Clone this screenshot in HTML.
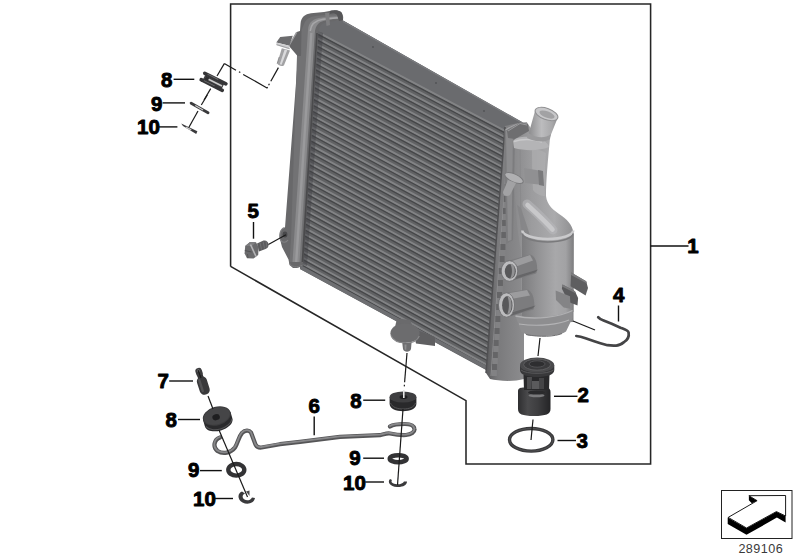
<!DOCTYPE html>
<html><head><meta charset="utf-8">
<style>
html,body{margin:0;padding:0;background:#fff;width:800px;height:560px;overflow:hidden}
svg{display:block}
.lb{font-family:"Liberation Sans",sans-serif;font-weight:bold;font-size:20.5px;fill:#000;stroke:#000;stroke-width:0.9px;stroke-linejoin:round}
.ld{stroke:#111;stroke-width:1.4;fill:none}
</style></head><body>
<svg width="800" height="560" viewBox="0 0 800 560">
<!-- frame -->
<polyline points="230.6,266.4 230.6,4 650.6,4 650.6,464 466,464 466,400.6 230.6,266.4" fill="none" stroke="#262626" stroke-width="1.55"/>

<!-- radiator assembly -->
<g id="rad">
<defs>
<linearGradient id="gTank" x1="0" y1="0" x2="1" y2="0">
 <stop offset="0" stop-color="#505052"/><stop offset="0.2" stop-color="#6c6c6e"/>
 <stop offset="0.55" stop-color="#78787a"/><stop offset="0.7" stop-color="#a2a2a4"/>
 <stop offset="0.8" stop-color="#9a9a9c"/><stop offset="0.9" stop-color="#5c5c5e"/><stop offset="1" stop-color="#4a4a4c"/>
</linearGradient>
<linearGradient id="gCyl" x1="0" y1="0" x2="1" y2="0">
 <stop offset="0" stop-color="#7c7c7e"/><stop offset="0.3" stop-color="#929294"/>
 <stop offset="0.65" stop-color="#a8a8aa"/><stop offset="0.85" stop-color="#a2a2a4"/>
 <stop offset="1" stop-color="#7e7e80"/>
</linearGradient>
<linearGradient id="gNeck" x1="0" y1="0" x2="1" y2="0">
 <stop offset="0" stop-color="#848486"/><stop offset="0.35" stop-color="#9c9c9e"/>
 <stop offset="0.7" stop-color="#ababad"/><stop offset="1" stop-color="#8e8e90"/>
</linearGradient>
<linearGradient id="gPipe" x1="0" y1="0" x2="1" y2="0">
 <stop offset="0" stop-color="#8a8a8c"/><stop offset="0.45" stop-color="#bcbcbe"/>
 <stop offset="0.8" stop-color="#a8a8aa"/><stop offset="1" stop-color="#8e8e90"/>
</linearGradient>
<linearGradient id="gRT" x1="0" y1="0" x2="1" y2="0">
 <stop offset="0" stop-color="#5a5a5c"/><stop offset="0.3" stop-color="#7a7a7c"/>
 <stop offset="1" stop-color="#8e8e90"/>
</linearGradient>
<linearGradient id="gTh" x1="0" y1="0" x2="1" y2="0">
 <stop offset="0" stop-color="#2e2e30"/><stop offset="0.3" stop-color="#4a4a4c"/>
 <stop offset="0.6" stop-color="#3e3e40"/><stop offset="1" stop-color="#242426"/>
</linearGradient>
<linearGradient id="gGr" x1="0" y1="0" x2="0" y2="1">
 <stop offset="0" stop-color="#4a4a4c"/><stop offset="1" stop-color="#232325"/>
</linearGradient>
<linearGradient id="gHi" x1="0" y1="0" x2="0" y2="1">
 <stop offset="0" stop-color="#333"/><stop offset="0.45" stop-color="#d8d8d8"/><stop offset="1" stop-color="#333"/>
</linearGradient>
</defs>
<polygon points="314.0,22.0 342.0,20.0 529.0,126.0 505.0,131.0 488.0,366.0 486.0,370.0 300.0,269.0 300.0,262.0" fill="#616264"/>
<polygon points="318.0,21.0 343.0,20.5 528.0,126.0 505.0,131.5 317.0,32.0" fill="#6a6b6e"/>
<line x1="343" y1="21.4" x2="527" y2="125.6" stroke="#7a7b7e" stroke-width="1.4"/>
<circle cx="373" cy="47" r="0.9" fill="#505154"/><circle cx="436" cy="83" r="0.9" fill="#505154"/><circle cx="484" cy="111" r="0.9" fill="#505154"/>
<g><line x1="318.0" y1="32.5" x2="505.0" y2="131.0" stroke="#828385" stroke-width="2.1"/><line x1="318.0" y1="34.3" x2="505.0" y2="132.8" stroke="#464749" stroke-width="1.3"/><line x1="317.6" y1="38.4" x2="504.6" y2="137.0" stroke="#828385" stroke-width="2.1"/><line x1="317.6" y1="40.2" x2="504.6" y2="138.8" stroke="#464749" stroke-width="1.3"/><line x1="317.2" y1="44.4" x2="504.1" y2="143.0" stroke="#828385" stroke-width="2.1"/><line x1="317.2" y1="46.2" x2="504.1" y2="144.8" stroke="#464749" stroke-width="1.3"/><line x1="316.8" y1="50.3" x2="503.7" y2="149.0" stroke="#828385" stroke-width="2.1"/><line x1="316.8" y1="52.1" x2="503.7" y2="150.8" stroke="#464749" stroke-width="1.3"/><line x1="316.5" y1="56.2" x2="503.3" y2="155.1" stroke="#828385" stroke-width="2.1"/><line x1="316.5" y1="58.0" x2="503.3" y2="156.9" stroke="#464749" stroke-width="1.3"/><line x1="316.1" y1="62.2" x2="502.8" y2="161.1" stroke="#828385" stroke-width="2.1"/><line x1="316.1" y1="64.0" x2="502.8" y2="162.9" stroke="#464749" stroke-width="1.3"/><line x1="315.7" y1="68.1" x2="502.4" y2="167.1" stroke="#828385" stroke-width="2.1"/><line x1="315.7" y1="69.9" x2="502.4" y2="168.9" stroke="#464749" stroke-width="1.3"/><line x1="315.3" y1="74.1" x2="501.9" y2="173.1" stroke="#828385" stroke-width="2.1"/><line x1="315.3" y1="75.9" x2="501.9" y2="174.9" stroke="#464749" stroke-width="1.3"/><line x1="314.9" y1="80.0" x2="501.5" y2="179.1" stroke="#828385" stroke-width="2.1"/><line x1="314.9" y1="81.8" x2="501.5" y2="180.9" stroke="#464749" stroke-width="1.3"/><line x1="314.5" y1="85.9" x2="501.1" y2="185.1" stroke="#828385" stroke-width="2.1"/><line x1="314.5" y1="87.7" x2="501.1" y2="186.9" stroke="#464749" stroke-width="1.3"/><line x1="314.2" y1="91.9" x2="500.6" y2="191.1" stroke="#828385" stroke-width="2.1"/><line x1="314.2" y1="93.7" x2="500.6" y2="192.9" stroke="#464749" stroke-width="1.3"/><line x1="313.8" y1="97.8" x2="500.2" y2="197.1" stroke="#828385" stroke-width="2.1"/><line x1="313.8" y1="99.6" x2="500.2" y2="198.9" stroke="#464749" stroke-width="1.3"/><line x1="313.4" y1="103.7" x2="499.8" y2="203.2" stroke="#828385" stroke-width="2.1"/><line x1="313.4" y1="105.5" x2="499.8" y2="205.0" stroke="#464749" stroke-width="1.3"/><line x1="313.0" y1="109.7" x2="499.3" y2="209.2" stroke="#828385" stroke-width="2.1"/><line x1="313.0" y1="111.5" x2="499.3" y2="211.0" stroke="#464749" stroke-width="1.3"/><line x1="312.6" y1="115.6" x2="498.9" y2="215.2" stroke="#828385" stroke-width="2.1"/><line x1="312.6" y1="117.4" x2="498.9" y2="217.0" stroke="#464749" stroke-width="1.3"/><line x1="312.2" y1="121.5" x2="498.5" y2="221.2" stroke="#828385" stroke-width="2.1"/><line x1="312.2" y1="123.3" x2="498.5" y2="223.0" stroke="#464749" stroke-width="1.3"/><line x1="311.8" y1="127.5" x2="498.0" y2="227.2" stroke="#828385" stroke-width="2.1"/><line x1="311.8" y1="129.3" x2="498.0" y2="229.0" stroke="#464749" stroke-width="1.3"/><line x1="311.5" y1="133.4" x2="497.6" y2="233.2" stroke="#828385" stroke-width="2.1"/><line x1="311.5" y1="135.2" x2="497.6" y2="235.0" stroke="#464749" stroke-width="1.3"/><line x1="311.1" y1="139.3" x2="497.2" y2="239.2" stroke="#828385" stroke-width="2.1"/><line x1="311.1" y1="141.1" x2="497.2" y2="241.0" stroke="#464749" stroke-width="1.3"/><line x1="310.7" y1="145.3" x2="496.7" y2="245.2" stroke="#828385" stroke-width="2.1"/><line x1="310.7" y1="147.1" x2="496.7" y2="247.0" stroke="#464749" stroke-width="1.3"/><line x1="310.3" y1="151.2" x2="496.3" y2="251.3" stroke="#828385" stroke-width="2.1"/><line x1="310.3" y1="153.0" x2="496.3" y2="253.1" stroke="#464749" stroke-width="1.3"/><line x1="309.9" y1="157.2" x2="495.8" y2="257.3" stroke="#828385" stroke-width="2.1"/><line x1="309.9" y1="159.0" x2="495.8" y2="259.1" stroke="#464749" stroke-width="1.3"/><line x1="309.5" y1="163.1" x2="495.4" y2="263.3" stroke="#828385" stroke-width="2.1"/><line x1="309.5" y1="164.9" x2="495.4" y2="265.1" stroke="#464749" stroke-width="1.3"/><line x1="309.2" y1="169.0" x2="495.0" y2="269.3" stroke="#828385" stroke-width="2.1"/><line x1="309.2" y1="170.8" x2="495.0" y2="271.1" stroke="#464749" stroke-width="1.3"/><line x1="308.8" y1="175.0" x2="494.5" y2="275.3" stroke="#828385" stroke-width="2.1"/><line x1="308.8" y1="176.8" x2="494.5" y2="277.1" stroke="#464749" stroke-width="1.3"/><line x1="308.4" y1="180.9" x2="494.1" y2="281.3" stroke="#828385" stroke-width="2.1"/><line x1="308.4" y1="182.7" x2="494.1" y2="283.1" stroke="#464749" stroke-width="1.3"/><line x1="308.0" y1="186.8" x2="493.7" y2="287.3" stroke="#828385" stroke-width="2.1"/><line x1="308.0" y1="188.6" x2="493.7" y2="289.1" stroke="#464749" stroke-width="1.3"/><line x1="307.6" y1="192.8" x2="493.2" y2="293.3" stroke="#828385" stroke-width="2.1"/><line x1="307.6" y1="194.6" x2="493.2" y2="295.1" stroke="#464749" stroke-width="1.3"/><line x1="307.2" y1="198.7" x2="492.8" y2="299.4" stroke="#828385" stroke-width="2.1"/><line x1="307.2" y1="200.5" x2="492.8" y2="301.2" stroke="#464749" stroke-width="1.3"/><line x1="306.8" y1="204.6" x2="492.4" y2="305.4" stroke="#828385" stroke-width="2.1"/><line x1="306.8" y1="206.4" x2="492.4" y2="307.2" stroke="#464749" stroke-width="1.3"/><line x1="306.5" y1="210.6" x2="491.9" y2="311.4" stroke="#828385" stroke-width="2.1"/><line x1="306.5" y1="212.4" x2="491.9" y2="313.2" stroke="#464749" stroke-width="1.3"/><line x1="306.1" y1="216.5" x2="491.5" y2="317.4" stroke="#828385" stroke-width="2.1"/><line x1="306.1" y1="218.3" x2="491.5" y2="319.2" stroke="#464749" stroke-width="1.3"/><line x1="305.7" y1="222.4" x2="491.1" y2="323.4" stroke="#828385" stroke-width="2.1"/><line x1="305.7" y1="224.2" x2="491.1" y2="325.2" stroke="#464749" stroke-width="1.3"/><line x1="305.3" y1="228.4" x2="490.6" y2="329.4" stroke="#828385" stroke-width="2.1"/><line x1="305.3" y1="230.2" x2="490.6" y2="331.2" stroke="#464749" stroke-width="1.3"/><line x1="304.9" y1="234.3" x2="490.2" y2="335.4" stroke="#828385" stroke-width="2.1"/><line x1="304.9" y1="236.1" x2="490.2" y2="337.2" stroke="#464749" stroke-width="1.3"/><line x1="304.5" y1="240.3" x2="489.7" y2="341.4" stroke="#828385" stroke-width="2.1"/><line x1="304.5" y1="242.1" x2="489.7" y2="343.2" stroke="#464749" stroke-width="1.3"/><line x1="304.2" y1="246.2" x2="489.3" y2="347.5" stroke="#828385" stroke-width="2.1"/><line x1="304.2" y1="248.0" x2="489.3" y2="349.3" stroke="#464749" stroke-width="1.3"/><line x1="303.8" y1="252.1" x2="488.9" y2="353.5" stroke="#828385" stroke-width="2.1"/><line x1="303.8" y1="253.9" x2="488.9" y2="355.3" stroke="#464749" stroke-width="1.3"/><line x1="303.4" y1="258.1" x2="488.4" y2="359.5" stroke="#828385" stroke-width="2.1"/><line x1="303.4" y1="259.9" x2="488.4" y2="361.3" stroke="#464749" stroke-width="1.3"/><line x1="303.0" y1="264.0" x2="488.0" y2="365.5" stroke="#828385" stroke-width="2.1"/><line x1="303.0" y1="265.8" x2="488.0" y2="367.3" stroke="#464749" stroke-width="1.3"/></g>
<polygon points="317.0,31.0 323.0,33.0 307.0,266.0 301.0,264.0" fill="#3e3f42" opacity="0.45"/>
<polygon points="301.0,265.5 488.0,366.5 487.0,370.0 300.0,269.0" fill="#6e6f72"/>
<path d="M300.5,24 C301,17 305,14 311,13.2 L324,12 C328,11 331,10.4 334,10.4 C339,10 342.5,12 343.2,17 L343,20.5 C332,21 324,21.5 321,25 C319,27.5 318.5,30 318.2,34 L303.3,262 C302.5,266.5 299,268.5 293,268 L289.5,265 L288.5,259.5 L282,247 L279.5,237 C279.5,231 281.5,228.5 285,227.5 Z" fill="#68686a"/>
<path d="M304,24 C306,18 312,16 320,15.5 L338,14 L338,19 C328,19.5 320,20.5 316.5,24.5 C314.5,27 314,30 313.5,34 L301.5,262 L289.5,262 L291,240 L297.5,40 Z" fill="#727274"/>
<path d="M308,30 C308.5,22 313,18.5 322,17.5 L340,16 L340,18.6 C330,19 322,20.5 318.5,23.5 C316,26 315,29 314.8,33 L299.5,262 L292.5,262 Z" fill="#8a8a8c"/>
<path d="M310.2,31 C311,24 315,20.5 323,19.3 L338,17.7" stroke="#a6a6a8" stroke-width="1.6" fill="none"/>
<path d="M311.3,33 L296.2,262" stroke="#9a9a9c" stroke-width="2.4" fill="none"/>
<path d="M316.2,33 L317.8,33 L303.3,262 L301.6,262 Z" fill="#4a4a4c"/>
<path d="M330,11 C334,9.5 340,10 342,13 L343,20 L339,21 L337,15 C335,13 332,13 330,14 Z" fill="#565658"/>
<path d="M325,13 L326.5,26 L330,25 L329,13 Z" fill="#7e7e80"/>
<path d="M284.5,227.5 C280,229 279,235 280.5,240 C282,243 286,243 288,240" stroke="#828284" stroke-width="1.2" fill="none"/>
<ellipse cx="285" cy="234.5" rx="2.4" ry="3" fill="#48484a"/>
<path d="M289.5,263 C291,267 297,268 302.5,265" stroke="#7a7a7c" stroke-width="1" fill="none"/>
<path d="M296.7,32 L301.5,30.5 L301,56 L297.5,56 L289,46 Z" fill="#646466"/>
<path d="M296.7,32.3 L288.9,45.7" stroke="#9a9a9c" stroke-width="1.4"/>
<path d="M276.3,42.5 L280.2,37 L292.8,35.8 L289.3,45.7 Z" fill="#6c6c6e"/>
<path d="M276.3,42.5 L289.3,45.7 L289.7,49.6 L276.5,45.2 Z" fill="#cfcfd1"/>
<path d="M276.5,44.6 L289.6,48.6" stroke="#8a8a8c" stroke-width="0.7"/>
<path d="M281.8,48.2 L290,50.6 L284,65.2 C282.5,66.8 278.5,66 277.2,63.6 Z" fill="#a2a2a4"/>
<path d="M284.6,49.5 L287.2,50.3 L281.6,64.8 L279.8,64.2 Z" fill="#dadadc"/>
<path d="M277.2,63.6 L279.2,57" stroke="#7e7e80" stroke-width="0.8"/>
<path d="M505,126 L521,122.5 L526,127 L524,250 L524,379 C514,382 498,381 490,379 L486,373 Z" fill="url(#gRT)"/>
<path d="M505,127 L486,373" stroke="#505052" stroke-width="1.5"/>
<path d="M509,128 L491,376" stroke="#8e8e90" stroke-width="1"/>
<rect x="508.1" y="136.0" width="5" height="6" fill="#656567"/>
<rect x="508.1" y="142.0" width="5" height="6" fill="#828284"/>
<rect x="507.2" y="148.0" width="5" height="6" fill="#656567"/>
<rect x="507.2" y="154.0" width="5" height="6" fill="#828284"/>
<rect x="506.4" y="160.0" width="5" height="6" fill="#656567"/>
<rect x="506.4" y="166.0" width="5" height="6" fill="#828284"/>
<rect x="505.5" y="172.0" width="5" height="6" fill="#656567"/>
<rect x="505.5" y="178.0" width="5" height="6" fill="#828284"/>
<rect x="504.7" y="184.0" width="5" height="6" fill="#656567"/>
<rect x="504.7" y="190.0" width="5" height="6" fill="#828284"/>
<rect x="503.8" y="196.0" width="5" height="6" fill="#656567"/>
<rect x="503.8" y="202.0" width="5" height="6" fill="#828284"/>
<rect x="503.0" y="208.0" width="5" height="6" fill="#656567"/>
<rect x="503.0" y="214.0" width="5" height="6" fill="#828284"/>
<rect x="502.1" y="220.0" width="5" height="6" fill="#656567"/>
<rect x="502.1" y="226.0" width="5" height="6" fill="#828284"/>
<rect x="501.3" y="232.0" width="5" height="6" fill="#656567"/>
<rect x="501.3" y="238.0" width="5" height="6" fill="#828284"/>
<rect x="500.4" y="244.0" width="5" height="6" fill="#656567"/>
<rect x="500.4" y="250.0" width="5" height="6" fill="#828284"/>
<rect x="499.6" y="256.0" width="5" height="6" fill="#656567"/>
<rect x="499.6" y="262.0" width="5" height="6" fill="#828284"/>
<rect x="498.7" y="268.0" width="5" height="6" fill="#656567"/>
<rect x="498.7" y="274.0" width="5" height="6" fill="#828284"/>
<rect x="497.9" y="280.0" width="5" height="6" fill="#656567"/>
<rect x="497.9" y="286.0" width="5" height="6" fill="#828284"/>
<rect x="497.0" y="292.0" width="5" height="6" fill="#656567"/>
<rect x="497.0" y="298.0" width="5" height="6" fill="#828284"/>
<rect x="496.2" y="304.0" width="5" height="6" fill="#656567"/>
<rect x="496.2" y="310.0" width="5" height="6" fill="#828284"/>
<rect x="495.3" y="316.0" width="5" height="6" fill="#656567"/>
<rect x="495.3" y="322.0" width="5" height="6" fill="#828284"/>
<rect x="494.5" y="328.0" width="5" height="6" fill="#656567"/>
<rect x="494.5" y="334.0" width="5" height="6" fill="#828284"/>
<rect x="493.6" y="340.0" width="5" height="6" fill="#656567"/>
<rect x="493.6" y="346.0" width="5" height="6" fill="#828284"/>
<rect x="492.8" y="352.0" width="5" height="6" fill="#656567"/>
<rect x="492.8" y="358.0" width="5" height="6" fill="#828284"/>
<rect x="491.9" y="364.0" width="5" height="6" fill="#656567"/>
<rect x="491.9" y="370.0" width="5" height="6" fill="#828284"/>
<path d="M509,132 C510,126 516,123 527,122.5 L536,136 L550,138 C548,160 546,180 546,196 C547,205 553,210 562,216 C569,221 573.5,227 573.8,236 L573.5,312 L521,314 L521,250 C519,240 517,228 516,210 L513,170 L509,150 Z" fill="url(#gNeck)"/>
<path d="M504.5,130 L512,128 L515,134 L513,240 L506,244 Z" fill="#7c7c7e"/>
<path d="M506,131 L513,129 L511.5,240 L508,241 Z" fill="#8c8c8e"/>
<path d="M505.5,130 C511,126 518,123.5 527,122.5" stroke="#a4a4a6" stroke-width="1.2" fill="none"/>
<path d="M507,131 L520,122.5 L528,124 L529,131 L515,139 L508,138 Z" fill="#6e6e70"/>
<path d="M508,131 L520,123.5 L527,125" stroke="#9a9a9c" stroke-width="1" fill="none"/>
<path d="M513,141 C517,136 528,136 538,138 C544,140 548,143 549,147 C540,151 525,151 514,148 Z" fill="#b4b4b6"/>
<path d="M514,141.5 C522,138.5 534,139 542,142" stroke="#cacacc" stroke-width="1.5" fill="none"/>
<path d="M520,150 L521,235" stroke="#8a8a8c" stroke-width="1" fill="none"/>
<path d="M532,150 C536,149 542,150 546,153 C545,168 544,182 545,196 C541,196 536,194 533,190 C532,176 532,162 532,150 Z" fill="#b0b0b2" opacity="0.6"/>
<path d="M527,204 C534,210 545,221 553,230" stroke="#b8b8ba" stroke-width="9" stroke-linecap="round" fill="none" opacity="0.6"/>
<path d="M527.5,205 C534,211 545,221 552.5,229.5" stroke="#c8c8ca" stroke-width="4.5" stroke-linecap="round" fill="none"/>
<path d="M517,205 C519,215 521,225 522,234 L530,236 C528,228 524,218 521,208 Z" fill="#858587" opacity="0.9"/>
<path d="M522,232 A25.6,8.6 0 0,0 573.5,232 L573.5,322 L522,324 Z" fill="url(#gCyl)"/>
<path d="M522.3,230.6 A25.4,8.4 0 0,0 573.2,230.6" stroke="#cacacc" stroke-width="2.6" fill="none"/>
<path d="M522.5,233.6 A25.2,8.3 0 0,0 573,233.6" stroke="#7a7a7c" stroke-width="1.5" fill="none"/>
<path d="M535,111 L558,117 L550,137 C545,141 535,140 528,136 Z" fill="url(#gPipe)"/>
<path d="M528,133 C536,138 545,139 551,134 L550,139 C544,143 535,142 527,138 Z" fill="#9a9a9c"/>
<ellipse cx="546.5" cy="114" rx="12" ry="5.6" transform="rotate(20 546.5 114)" fill="#c8c8ca" stroke="#909092" stroke-width="1"/>
<ellipse cx="547" cy="114.6" rx="8" ry="3.2" transform="rotate(20 547 114.6)" fill="#a2a2a4"/>
<path d="M524,168 L542,171 L543,185 L525,183 Z" fill="#909092"/>
<path d="M538,170 L543,171 L544,186 L539,185 Z" fill="#7a7a7c"/>
<ellipse cx="514" cy="178" rx="10" ry="4" transform="rotate(25 514 178)" fill="#b0b0b2" stroke="#7a7a7c" stroke-width="1"/>
<path d="M508,180 L516,183 L510,195 C507,197 503,196 503,192 Z" fill="#a2a2a4"/>
<path d="M515.5,316 C535,320 560,316 572.5,310.5 L572.5,318 L566,331.5 C560,335.5 548,336.5 536,336 L528,335.5 L521,331.5 Z" fill="#8e8e90"/>
<path d="M515.5,316 C535,320.5 560,317 572.5,310.5" stroke="#b0b0b2" stroke-width="1.4" fill="none"/>
<path d="M519,324 C540,327 560,324 569,320" stroke="#b4b4b6" stroke-width="1.1" fill="none"/>
<path d="M526,334.5 C540,337.5 555,336.5 562,333.5" stroke="#6e6e70" stroke-width="1" fill="none"/>
<polygon points="571.2,272.5 586.2,281.2 588.0,288.0 585.6,295.6 570.6,286.2" fill="#5e5e60"/>
<polygon points="571.2,272.5 586.2,281.2 587.0,283.5 571.0,275.0" fill="#7c7c7e"/>
<polygon points="562.5,284.4 575.0,291.2 578.1,298.1 577.5,305.6 568.7,301.9 561.9,288.7" fill="#5a5a5c"/>
<polygon points="562.5,284.4 575.0,291.2 576.0,293.5 562.0,286.5" fill="#7a7a7c"/>
<polygon points="555.6,290.6 570.0,296.2 570.6,308.7 563.7,307.5 556.0,300.0" fill="#848486"/>
<path d="M508.5,260.7 L530,254.5 C538,256.5 538,271.5 536,273.5 L510.5,281.3 Z" fill="#7c7c7e"/>
<path d="M511.5,261.2 L530,255.0 L533,260.5 L515.5,266.7 Z" fill="#9c9c9e"/>
<path d="M512.5,280.3 L535,272.5 L538,269.5 L515.5,276.3 Z" fill="#666668"/>
<ellipse cx="509.5" cy="271" rx="8.3" ry="10.3" fill="#bcbcbe" stroke="#6a6a6c" stroke-width="0.8"/>
<ellipse cx="510.3" cy="271.3" rx="5.500000000000001" ry="7.300000000000001" fill="#58585a"/>
<path d="M510.3,263.7 C516.3,263.9 516.3,278.1 510.3,278.3 C512.5,274.0 512.5,268.0 510.3,263.7 Z" fill="#929294"/>
<path d="M505.5,292.8 L527,289.5 C535,291.5 535,307.5 533.5,309.5 L507.5,317.2 Z" fill="#7c7c7e"/>
<path d="M508.5,293.3 L527,290.0 L530,295.5 L512.5,298.8 Z" fill="#9c9c9e"/>
<path d="M509.5,316.2 L532.5,308.5 L535.5,305.5 L512.5,312.2 Z" fill="#666668"/>
<ellipse cx="506.5" cy="305" rx="8" ry="12.2" fill="#bcbcbe" stroke="#6a6a6c" stroke-width="0.8"/>
<ellipse cx="507.3" cy="305.3" rx="5.2" ry="9.2" fill="#58585a"/>
<path d="M507.3,295.8 C513.0,296.0 513.0,314.0 507.3,314.2 C509.5,308.0 509.5,302.0 507.3,295.8 Z" fill="#929294"/>
<path d="M412,328 L435,337 L435,346 L416,343.5 Z" fill="#5f5f61"/>
<path d="M397,318.5 L410,320 L413,327 L395,327 Z" fill="#6a6a6c"/>
<ellipse cx="405" cy="333.2" rx="14.6" ry="9.8" fill="#6c6c6e"/>
<path d="M391,335.5 C393,340.5 399,343 406,343 C413,343 417.5,340.5 419.3,336" stroke="#8a8a8c" stroke-width="1.1" fill="none"/>
<path d="M402.3,343 L411.5,343 L411,349 C410,352.5 404,352.5 403,349 Z" fill="#6e6e70"/>
<path d="M404.5,344.5 L406.5,344.5 L406.2,350 L404.8,349.5 Z" fill="#8e8e90"/>
<g transform="translate(213.5,81.8) rotate(26.5)"><rect x="-10.5" y="-2.5" width="21" height="5" fill="#3a3a3c"/><rect x="-9.5" y="-0.9" width="19" height="1.8" fill="#c8c8c8"/><rect x="-9.5" y="-1.8" width="4" height="3.6" fill="#2e2e30"/></g>
<g transform="translate(215.35,78.55) rotate(26.5)"><rect x="-13.6" y="-1.8" width="27.2" height="3.6" rx="1.8" fill="#353537"/><rect x="-9" y="-0.9" width="12" height="0.9" fill="#6a6a6c"/></g>
<g transform="translate(211.75,85) rotate(26.5)"><rect x="-13.6" y="-1.8" width="27.2" height="3.6" rx="1.8" fill="#353537"/><rect x="-9" y="-0.9" width="12" height="0.9" fill="#6a6a6c"/></g>
<g transform="translate(199.6,108) rotate(29.5)"><rect x="-11.1" y="-1.4" width="22.2" height="2.8" rx="1.4" fill="#3a3a3c"/><rect x="-5" y="-0.5" width="9" height="1" fill="#cfcfcf"/></g>
<path d="M181.2,123.4 L197.4,131.2 L196.2,134 L183,126 Z" fill="#3a3a3c"/>
<path d="M186,126.6 L191.5,129.2 L191,130.6 L185.5,128 Z" fill="#c8c8c8"/>
<g transform="translate(198.2,369.6) rotate(-17.7)"><rect x="-3.3" y="-1.6" width="6.6" height="9" rx="3" fill="#3c3c3e"/><rect x="-2.8" y="6" width="5.6" height="3" fill="#333335"/><rect x="-5.1" y="7.5" width="10.2" height="18.5" rx="4.6" fill="#39393b"/><rect x="-3.4" y="9" width="2.4" height="14" rx="1" fill="#525254"/><rect x="-1.2" y="0" width="2" height="2.2" fill="#8a8a8c"/></g>
<g transform="translate(216.8,416) rotate(-16)"><path d="M-14.3,0 L-14.3,6.5 C-14.3,12 -7,15 0,15 C7,15 14.3,12 14.3,6.5 L14.3,0 Z" fill="#2a2a2c"/><path d="M-13.5,7 C-11,12 -4,13.5 0,13.5 C6,13.5 12,11 13.8,7" stroke="#555557" stroke-width="1" fill="none"/><ellipse cx="0" cy="0" rx="14.3" ry="9.3" fill="#3c3c3e"/><ellipse cx="0" cy="0" rx="13.3" ry="8.3" fill="#454547"/><ellipse cx="-1" cy="1" rx="3.8" ry="3" fill="#1e1e20"/></g>
<path d="M389.6,397 L389.6,404 C390,409 396,411.2 403,411.2 C410,411.2 416,409 416.4,404 L416.4,397 Z" fill="#29292b"/>
<path d="M390.5,403 C392,407.5 398,409 403,409 C409,409 414,407.5 415.5,403" stroke="#555557" stroke-width="1" fill="none"/>
<ellipse cx="403" cy="397" rx="13.4" ry="5.6" fill="#3e3e40"/>
<ellipse cx="403.5" cy="397" rx="4" ry="2" fill="#1e1e20"/>
<rect x="403" y="390" width="1.6" height="8" fill="#e6e6e6"/>
<ellipse cx="236.3" cy="469.8" rx="8" ry="5.8" fill="none" stroke="#333335" stroke-width="4.4"/>
<ellipse cx="398.2" cy="458.7" rx="8.4" ry="3.5" fill="none" stroke="#333335" stroke-width="4.6"/>
<path d="M242,491.5 C237.5,493 237,499.5 242.5,502.5 C247.5,505 254,503.5 255,498 L252,497.5 C250.5,500.5 246.5,501 244.5,499.5 C241.5,497.5 242.5,494.5 245,493.5 Z" fill="#3a3a3c"/>
<path d="M246,491.5 L249.5,490.5 L249.5,496 Z" fill="#4a4a4c"/>
<path d="M390,479 C387,482 390,486.5 397,487 C403,487.3 407,485 407,481.5 L404,481.5 C403,483.5 400,484.5 397,484.3 C392.5,484 390.5,482 392,480 Z" fill="#3a3a3c"/>
<path d="M220,437.5 C214,439.5 212.5,447 217.5,451 C223,454.5 231,453 235,447.5 C238,443 238.5,437 242,433 C245,430 249,429.8 251,432.5 L255.5,444.5 C256.5,447 258.5,447.8 261.5,447.5 L280,444.2 L300,441.9 L340,436.8 L380,435.2 C384,434.5 386,433 390,433.5 C395,434.5 400,435.3 406,435 C411,434.5 415,432 414.5,429 C414,425.5 410,424 405,424 C399,424 393,424.5 390,426.5" fill="none" stroke="#555557" stroke-width="4.2" stroke-linecap="round" stroke-linejoin="round"/>
<path d="M220,437.5 C214,439.5 212.5,447 217.5,451 C223,454.5 231,453 235,447.5 C238,443 238.5,437 242,433 C245,430 249,429.8 251,432.5 L255.5,444.5 C256.5,447 258.5,447.8 261.5,447.5 L280,444.2 L300,441.9 L340,436.8 L380,435.2 C384,434.5 386,433 390,433.5 C395,434.5 400,435.3 406,435 C411,434.5 415,432 414.5,429 C414,425.5 410,424 405,424 C399,424 393,424.5 390,426.5" fill="none" stroke="#88888a" stroke-width="1.8" stroke-linecap="round" stroke-linejoin="round" transform="translate(-0.2,-0.5)"/>
<path d="M518,391 C518,388 521,387.5 524,387.5 L546,387.5 C549,387.5 550.5,389 550.5,392 L550.5,409 C550.5,414 546,416 534,416 C522,416 518,414 518,409 Z" fill="url(#gTh)"/>
<path d="M523.5,375 L549.5,375 L549,390 L524,390 Z" fill="#29292b"/>
<path d="M527,377 L532,377 L531.5,389 L527,389 Z" fill="#4e4e50"/>
<path d="M539,378 L544,378 L544,389 L539,389 Z" fill="#444446"/>
<path d="M532,381 L539,381 L539,389 L532,389 Z" fill="#5a5a5c"/>
<ellipse cx="536.5" cy="395.5" rx="8" ry="1.8" fill="#7a7a7c"/>
<ellipse cx="536.5" cy="392.5" rx="8.5" ry="2" fill="#2a2a2c"/>
<path d="M520,365 L520,370 C520,375 528,377 537,377 C546,377 554.3,375 554.3,370 L554.3,365 Z" fill="#38383a"/>
<ellipse cx="537.1" cy="365" rx="17.1" ry="7.6" fill="#4a4a4c"/>
<ellipse cx="537.1" cy="364.6" rx="13.5" ry="5.6" fill="#3a3a3c" stroke="#5e5e60" stroke-width="1"/>
<ellipse cx="537.1" cy="364" rx="8" ry="3.2" fill="#2e2e30" stroke="#58585a" stroke-width="0.8"/>
<path d="M521,370 C526,374.5 548,374.5 553.5,370" stroke="#5a5a5c" stroke-width="0.9" fill="none"/>
<ellipse cx="531.2" cy="439.8" rx="21.7" ry="11.3" fill="none" stroke="#3a3a3c" stroke-width="3.4"/>
<ellipse cx="531.2" cy="439.8" rx="21.7" ry="11.3" fill="none" stroke="#5a5a5c" stroke-width="0.7"/>
<path d="M598.2,317.2 C600,319 601,319.6 603,320.2 L611.7,323.7 L620.5,327.7 C624,329 628,330 628.6,332.5 C629.2,336 627.5,340 624,342.1 C621,344.5 618.5,345.6 616.1,345.6 C612,345.8 610,345.6 607.4,345.2 C603,344 598,342.5 594.2,341.2 L585.5,338.2 C582,337 579,336.3 576.3,336" fill="none" stroke="#444446" stroke-width="2.7" stroke-linecap="round" stroke-linejoin="round"/>
<path d="M257,243.5 L263.5,240.5 C266,240 268,241.5 268.5,244 C269,246.5 267.5,248.5 265.5,249 L259,251.5 Z" fill="#5c5c5e"/>
<path d="M260,242.5 L261.5,249.5 M263,241.2 L264.5,248.4 M266,240.8 L267,247.6" stroke="#7a7a7c" stroke-width="0.7"/>
<path d="M245.2,246 L250,242 L256,242.3 L258.6,247 L258.2,255 L253.5,258.6 L247,258.2 L244.6,253.5 Z" fill="#6a6a6c"/>
<path d="M245.2,246 L250,242 L256,242.3 L252,246 Z" fill="#7e7e80"/>
<path d="M250.5,244.5 L256,256.5" stroke="#b4b4b6" stroke-width="1.6"/>
<path d="M244.8,250.5 L251.5,252" stroke="#4e4e50" stroke-width="0.9"/>
<path d="M247.5,254 L248,258" stroke="#505052" stroke-width="0.8"/>
<g stroke="#1a1a1a" stroke-width="1.2" fill="none"><path d="M224.3,63.6 L217,76" />
<path d="M210.7,88.6 L204,100" />
<path d="M201.3,105 L207.3,95" />
<path d="M198,111 L188.8,127.5" />
<path d="M224.3,63.6 L236,70.2"/>
<path d="M239,71.8 L240.3,72.6"/>
<path d="M243.2,74.4 L267,87.9 L267.6,87"/>
<path d="M268.6,85.2 L269.4,83.8"/>
<path d="M270.8,81.2 L278.4,67.6"/>
<path d="M268.4,244.6 L286,234.8"/>
<path d="M198,370 L201,378" stroke-dasharray="0"/>
<path d="M208,396 L213,409"/>
<path d="M219,430 L247.5,497"/>
<path d="M407,353 L404.6,382.2"/>
<path d="M404.4,384.8 L404.3,386.4"/>
<path d="M403,409 L397.5,485"/>
<path d="M540,338 L538,356"/>
<path d="M533,419.5 L531,440"/>
<path d="M573,321 L595,330"/></g>
</g>

<!-- labels -->
<g class="lb">
<text x="687.3" y="252.6">1</text>
<text x="577.4" y="402.3">2</text>
<text x="576.5" y="448">3</text>
<text x="613" y="302">4</text>
<text x="247.5" y="218.3">5</text>
<text x="308.5" y="413.3">6</text>
<text x="157.5" y="388">7</text>
<text x="161" y="87">8</text>
<text x="151" y="111">9</text>
<text x="137" y="134.3">10</text>
<text x="165.5" y="426.5">8</text>
<text x="188" y="477">9</text>
<text x="193" y="506">10</text>
<text x="350.2" y="408.3">8</text>
<text x="349.2" y="465">9</text>
<text x="343" y="489.8">10</text>
</g>
<!-- leaders -->
<g class="ld">
<line x1="650.5" y1="246" x2="688.5" y2="246"/>
<line x1="554" y1="396.3" x2="577.5" y2="396.3"/>
<line x1="557.5" y1="440.5" x2="576" y2="440.5"/>
<line x1="618.5" y1="305.5" x2="618.5" y2="321.5"/>
<line x1="253.5" y1="222" x2="253.5" y2="238.7"/>
<line x1="314.2" y1="416.4" x2="314.2" y2="435.3"/>
<line x1="169.2" y1="381" x2="193" y2="381"/>
<line x1="173.6" y1="79.3" x2="194.3" y2="79.3"/>
<line x1="162.6" y1="102.9" x2="185" y2="102.9"/>
<line x1="158.6" y1="126.9" x2="177.4" y2="126.9"/>
<line x1="178" y1="419.5" x2="200" y2="419.5"/>
<line x1="200" y1="470.6" x2="221.8" y2="470.6"/>
<line x1="215" y1="498.5" x2="233" y2="498.5"/>
<line x1="363.2" y1="400.2" x2="385.2" y2="400.2"/>
<line x1="363.2" y1="458.2" x2="384" y2="458.2"/>
<line x1="365.2" y1="482" x2="384" y2="482"/>
</g>

<!-- arrow box -->
<rect x="721.5" y="490.5" width="70.5" height="48" fill="none" stroke="#222" stroke-width="1"/>
<polygon points="727.7,517.6 746.5,528.2 776.4,511.8 785.6,516.2 785.6,522.4 776.9,517.6 746.5,534.8 727.7,523.9" fill="#000"/>
<polygon points="748.9,495.7 757.1,500.7 751.8,503.2 748.9,500.2" fill="#000"/>
<polygon points="728.2,517.4 757.1,500.7 748.9,495.7 785.6,495.5 785.6,516 776.4,511.6 746.5,528" fill="#fff" stroke="#000" stroke-width="0.9" stroke-linejoin="miter"/>
<text x="738.4" y="552.8" font-family="Liberation Sans,sans-serif" font-size="12.6" letter-spacing="0.45" fill="#3a3a3a">289106</text>
</svg>
</body></html>
